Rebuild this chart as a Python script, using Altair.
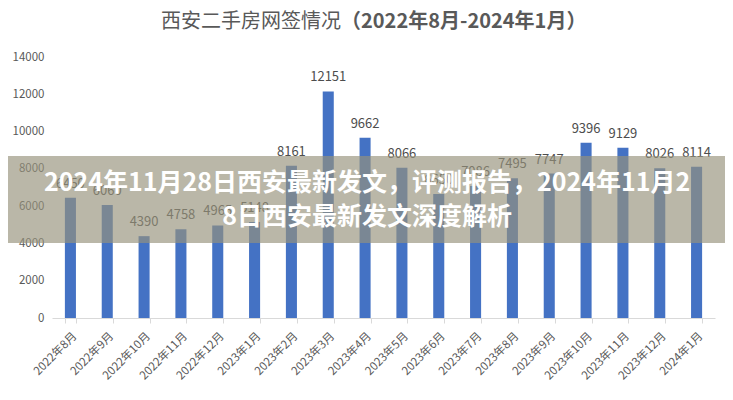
import altair as alt
import pandas as pd

months = ["2022年8月", "2022年9月", "2022年10月", "2022年11月", "2022年12月",
          "2023年1月", "2023年2月", "2023年3月", "2023年4月", "2023年5月",
          "2023年6月", "2023年7月", "2023年8月", "2023年9月", "2023年10月",
          "2023年11月", "2023年12月", "2024年1月"]
values = [6450, 6060, 4390, 4758, 4965, 5148, 8161, 12151, 9662, 8066,
          6650, 7086, 7495, 7747, 9396, 9129, 8026, 8114]
y_ticks = [0, 2000, 4000, 6000, 8000, 10000, 12000, 14000]

title_left = "西安二手房网签情况"
title_right = "（2022年8月-2024年1月）"
banner_line1 = "2024年11月28日西安最新发文，评测报告，2024年11月2"
banner_line2 = "8日西安最新发文深度解析"

FONT = "Noto Sans CJK SC"
W, H = 663, 261

df = pd.DataFrame({"month": months, "value": values})
one = pd.DataFrame({"k": [0]})

x = alt.X("month:N", sort=months,
          scale=alt.Scale(paddingInner=0.7, paddingOuter=0.35),
          axis=alt.Axis(title=None, labelAngle=-45, labelFontSize=11.5,
                        labelColor="#595959", labelFont=FONT,
                        domainColor="#d9d9d9", tickColor="#d9d9d9",
                        tickSize=5, tickBand="extent", labelPadding=7,
                        labelOverlap=False))
y = alt.Y("value:Q", scale=alt.Scale(domain=[0, 14000], nice=False),
          axis=alt.Axis(title=None, values=y_ticks, format="d", grid=False,
                        domain=False, ticks=False, labelColor="#595959",
                        labelFontSize=11.5, labelFont=FONT, labelPadding=8,
                        labelOverlap=False, labelFlush=False,
                        labelBound=False))

bars = alt.Chart(df).mark_bar(color="#4472C4").encode(x=x, y=y)
labels = alt.Chart(df).mark_text(dy=-10, baseline="alphabetic", fontSize=13,
                                 color="#4d4d4d", font=FONT).encode(
    x=x, y=y, text=alt.Text("value:Q", format="d"))

banner = alt.Chart(one).mark_rect(color="#96917b", opacity=0.66).encode(
    x=alt.value(-52), x2=alt.value(W + 20), y=alt.value(99), y2=alt.value(186))

b1 = alt.Chart(one).mark_text(fontSize=25, fontWeight="bold", color="white",
                              font=FONT, align="center", baseline="middle").encode(
    x=alt.value(315), y=alt.value(126), text=alt.value(banner_line1))
b2 = alt.Chart(one).mark_text(fontSize=25, fontWeight="bold", color="white",
                              font=FONT, align="center", baseline="middle").encode(
    x=alt.value(315), y=alt.value(160), text=alt.value(banner_line2))

tl = alt.Chart(one).mark_text(fontSize=20, color="#595959", font=FONT,
                              align="right", baseline="middle").encode(
    x=alt.value(289), y=alt.value(-35), text=alt.value(title_left))
tr = alt.Chart(one).mark_text(fontSize=20, fontWeight="bold", color="#595959",
                              font=FONT, align="left", baseline="middle").encode(
    x=alt.value(289), y=alt.value(-35), text=alt.value(title_right))

chart = alt.layer(bars, labels, banner, b1, b2, tl, tr).properties(
    width=W, height=H,
    padding={"left": 44, "top": 49, "right": 10, "bottom": 74},
    autosize=alt.AutoSizeParams(type="none"),
).configure_view(stroke=None)

chart.save("out.html", embed_options={"renderer": "svg", "actions": False})
